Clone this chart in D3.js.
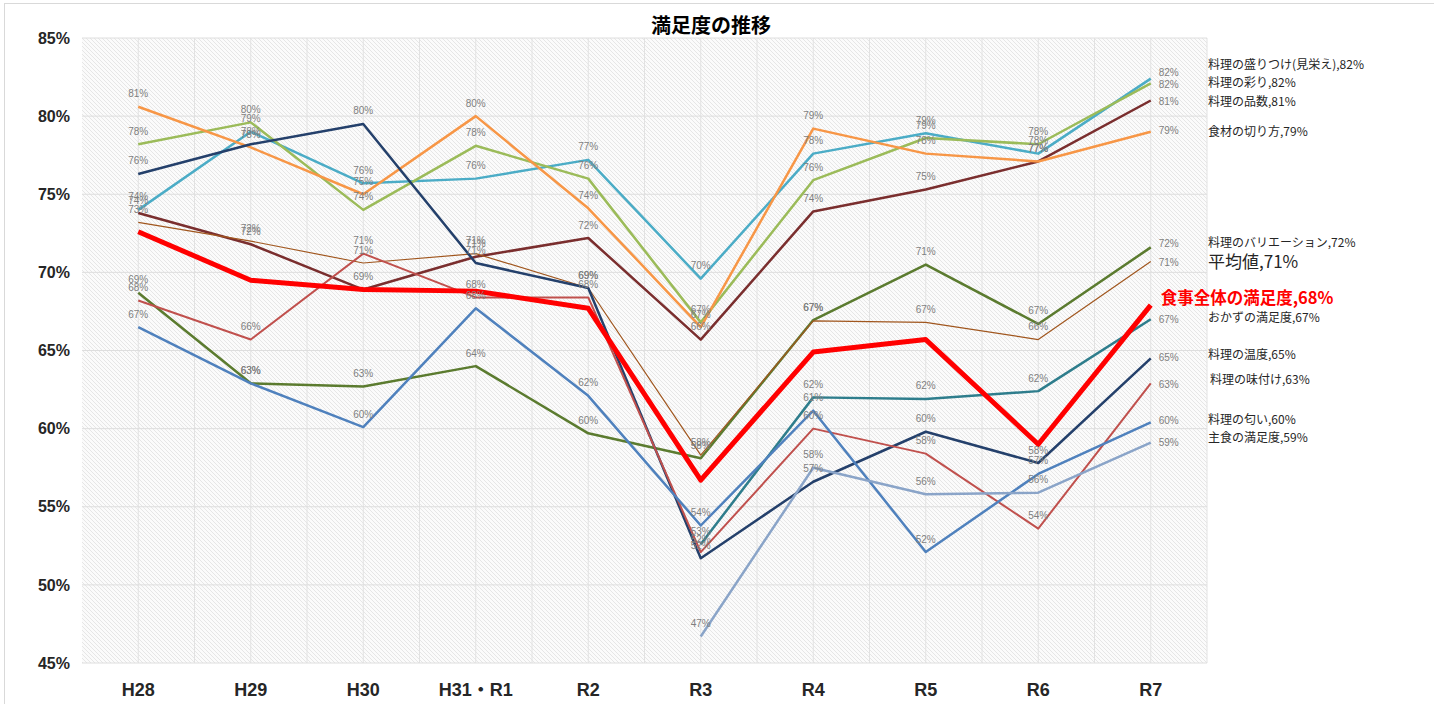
<!DOCTYPE html>
<html>
<head>
<meta charset="utf-8">
<script src="https://cdn.jsdelivr.net/npm/d3@7"></script>
<style>
  body { margin: 0; background: #fff; }
</style>
</head>
<body>
<div id="chart"></div>
<script>
// categories (x axis)
const categories = ['H28', 'H29', 'H30', 'H31・R1', 'R2', 'R3', 'R4', 'R5', 'R6', 'R7']

const moritsuke = [74.0, 79.0, 75.7, 76.0, 77.2, 69.6, 77.6, 78.9, 77.6, 82.4]
const irodori = [78.2, 79.6, 74.0, 78.1, 76.0, 66.8, 75.9, 78.6, 78.2, 82.1]
const hinkazu = [73.8, 71.8, 68.9, 71.0, 72.2, 65.7, 73.9, 75.3, 77.1, 81.0]
const kirikata = [80.6, 78.0, 75.0, 80.0, 74.1, 66.5, 79.2, 77.6, 77.1, 79.0]
const variation = [68.7, 62.9, 62.7, 64.0, 59.7, 58.1, 66.95, 70.5, 66.7, 71.6]
const average = [73.2, 72.0, 70.6, 71.2, 69.0, 58.3, 66.9, 66.8, 65.7, 70.7]
const overall = [72.6, 69.5, 68.9, 68.8, 67.7, 56.7, 64.9, 65.7, 59.0, 67.9]
const okazu = [null, null, null, null, null, 52.6, 62.0, 61.9, 62.4, 67.0]
const ondo = [76.3, 78.2, 79.5, 70.6, 69.0, 51.7, 56.6, 59.8, 57.8, 64.5]
const ajitsuke = [68.2, 65.7, 71.2, 68.4, 68.4, 52.1, 60.0, 58.4, 53.6, 62.9]
const nioi = [66.5, 62.9, 60.1, 67.7, 62.1, 53.8, 61.15, 52.1, 57.1, 60.4]
const shushoku = [null, null, null, null, null, 46.7, 57.5, 55.8, 55.9, 59.1]

const seriesNames = [
  '料理の盛りつけ(見栄え)', '料理の彩り', '料理の品数', '食材の切り方',
  '料理のバリエーション', '平均値', '食事全体の満足度', 'おかずの満足度',
  '料理の温度', '料理の味付け', '料理の匂い', '主食の満足度',
]
const seriesValues = [
  moritsuke, irodori, hinkazu, kirikata, variation, average,
  overall, okazu, ondo, ajitsuke, nioi, shushoku,
]

const yTicks = [45, 50, 55, 60, 65, 70, 75, 80, 85]
const title = '満足度の推移'

// styles per series (same order as seriesNames)
const styles = [
  { color: '#4bacc6', width: 2.5, endDy: -14, lastDy: -6 },
  { color: '#9bbb59', width: 2.5, endDy: -1, lastDy: 1 },
  { color: '#7a2e2e', width: 2.5, endDy: 1, lastDy: 1 },
  { color: '#f79646', width: 2.5, endDy: 0, lastDy: -1 },
  { color: '#5b7b2f', width: 2.5, endDy: -5, lastDy: -4 },
  { color: '#a0561e', width: 1.2, endDy: 1, lastDy: 1, big: true },
  { color: '#ff0000', width: 5, endDy: -7, noLabels: true, red: true },
  { color: '#2e7d8c', width: 2.5, endDy: -1, lastDy: 0 },
  { color: '#24406b', width: 2.5, endDy: -4, lastDy: -1 },
  { color: '#c0504d', width: 2, endDy: -4, lastDy: 1, shift: 2 },
  { color: '#4f81bd', width: 2.5, endDy: -3, lastDy: -2 },
  { color: '#8aa4c8', width: 2.5, endDy: -5, lastDy: 0 },
]

const draw = () => {
  const dimensions = {
    width: 1434,
    height: 704,
    margin: { top: 38, right: 227, bottom: 41, left: 82 },
  }
  dimensions.ctrWidth = dimensions.width - dimensions.margin.left - dimensions.margin.right
  dimensions.ctrHeight = dimensions.height - dimensions.margin.top - dimensions.margin.bottom

  const svg = d3
    .select('#chart')
    .append('svg')
    .attr('width', dimensions.width)
    .attr('height', dimensions.height)
    .style('display', 'block')

  // outer chart border
  svg
    .append('rect')
    .attr('x', 4.5)
    .attr('y', 3.5)
    .attr('width', dimensions.width + 10)
    .attr('height', dimensions.height + 10)
    .attr('fill', '#fff')
    .attr('stroke', '#d9d9d9')

  // hatch pattern for the plot area
  const defs = svg.append('defs')
  const pattern = defs
    .append('pattern')
    .attr('id', 'hatch')
    .attr('width', 4)
    .attr('height', 4)
    .attr('patternUnits', 'userSpaceOnUse')
  pattern.append('rect').attr('width', 4).attr('height', 4).attr('fill', '#fbfbfb')
  pattern
    .append('path')
    .attr('d', 'M0,0 L4,4 M-1,3 L1,5 M3,-1 L5,1')
    .attr('stroke', '#e3e3e3')
    .attr('stroke-width', 0.9)

  const ctr = svg
    .append('g')
    .attr('transform', `translate(${dimensions.margin.left}, ${dimensions.margin.top})`)

  // scales
  const xScale = d3
    .scaleBand()
    .domain(categories)
    .range([0, dimensions.ctrWidth])
    .padding(0)
  const xPos = (i) => xScale(categories[i]) + xScale.bandwidth() / 2

  const yScale = d3
    .scaleLinear()
    .domain([45, 85])
    .range([dimensions.ctrHeight, 0])

  ctr
    .append('rect')
    .attr('width', dimensions.ctrWidth)
    .attr('height', dimensions.ctrHeight)
    .attr('fill', 'url(#hatch)')

  // vertical gridlines at band centres and edges
  const half = xScale.bandwidth() / 2
  const vLines = d3.range(1, categories.length * 2 + 1).map((k) => k * half)
  ctr
    .append('g')
    .selectAll('line')
    .data(vLines)
    .join('line')
    .attr('x1', (d) => d)
    .attr('x2', (d) => d)
    .attr('y1', 0)
    .attr('y2', dimensions.ctrHeight)
    .attr('stroke', '#e2e2e2')
    .attr('stroke-width', 1)

  // horizontal gridlines
  ctr
    .append('g')
    .selectAll('line')
    .data(yTicks)
    .join('line')
    .attr('x1', 0)
    .attr('x2', dimensions.ctrWidth)
    .attr('y1', (d) => yScale(d))
    .attr('y2', (d) => yScale(d))
    .attr('stroke', '#dedede')
    .attr('stroke-width', 1)

  // axes
  const yAxis = d3
    .axisLeft(yScale)
    .tickValues(yTicks)
    .tickSize(0)
    .tickPadding(12)
    .tickFormat((d) => `${d}%`)
  const yAxisGroup = ctr.append('g').call(yAxis)
  yAxisGroup.select('.domain').remove()
  yAxisGroup
    .selectAll('text')
    .attr('font-family', '"Liberation Sans", Arial, sans-serif')
    .attr('font-weight', 'bold')
    .attr('font-size', 16)
    .attr('fill', '#262626')

  const xAxis = d3.axisBottom(xScale).tickSize(0).tickPadding(20)
  const xAxisGroup = ctr
    .append('g')
    .attr('transform', `translate(0, ${dimensions.ctrHeight})`)
    .call(xAxis)
  xAxisGroup.select('.domain').remove()
  xAxisGroup
    .selectAll('text')
    .attr('font-family', '"Liberation Sans", "Noto Sans CJK JP", sans-serif')
    .attr('font-weight', 'bold')
    .attr('font-size', 18)
    .attr('fill', '#262626')

  // lines
  const lineGenerator = d3
    .line()
    .defined((d) => d !== null)
    .x((d, i) => xPos(i))
    .y((d) => yScale(d))

  const order = d3.range(seriesValues.length).filter((i) => !styles[i].red)
  order.push(styles.findIndex((s) => s.red))

  order.forEach((si) => {
    ctr
      .append('path')
      .datum(seriesValues[si])
      .attr('d', lineGenerator)
      .attr('fill', 'none')
      .attr('stroke', styles[si].color)
      .attr('stroke-width', styles[si].width)
      .attr('stroke-linejoin', 'round')
  })

  // data labels
  const labelGroup = ctr.append('g')
  seriesValues.forEach((values, si) => {
    if (styles[si].noLabels) return
    const pts = values
      .map((v, i) => ({ v, i }))
      .filter((d) => d.v !== null)
    labelGroup
      .selectAll(null)
      .data(pts)
      .join('text')
      .attr('x', (d) => (d.i === categories.length - 1 ? xPos(d.i) + 8 : xPos(d.i)))
      .attr('y', (d) =>
        d.i === categories.length - 1
          ? yScale(d.v) + (styles[si].lastDy || 0)
          : yScale(d.v) - 13
      )
      .attr('dy', '0.35em')
      .attr('text-anchor', (d) => (d.i === categories.length - 1 ? 'start' : 'middle'))
      .attr('font-family', '"Liberation Sans", Arial, sans-serif')
      .attr('font-size', 10)
      .attr('fill', '#7f7f7f')
      .text((d) => `${Math.round(d.v)}%`)
  })

  // series names at the right end
  const endGroup = svg.append('g')
  seriesValues.forEach((values, si) => {
    const last = values[values.length - 1]
    const st = styles[si]
    const y = dimensions.margin.top + yScale(last) + st.endDy
    const x = st.red
      ? dimensions.margin.left + xPos(categories.length - 1) + 10
      : dimensions.margin.left + dimensions.ctrWidth + 1 + (st.shift || 0)
    endGroup
      .append('text')
      .attr('x', x)
      .attr('y', y)
      .attr('dy', '0.35em')
      .attr('font-family', '"Noto Sans CJK JP", sans-serif')
      .attr('font-size', st.red ? 16.5 : st.big ? 17 : 12)
      .attr('font-weight', st.red ? 'bold' : 'normal')
      .attr('fill', st.red ? '#ff0000' : '#262626')
      .text(`${seriesNames[si]},${Math.round(last)}%`)
  })

  // title
  svg
    .append('text')
    .attr('x', 711)
    .attr('y', 33)
    .attr('text-anchor', 'middle')
    .attr('font-family', '"Noto Sans CJK JP", sans-serif')
    .attr('font-weight', 'bold')
    .attr('font-size', 20)
    .attr('fill', '#000')
    .text(title)
}

draw()
</script>
</body>
</html>
